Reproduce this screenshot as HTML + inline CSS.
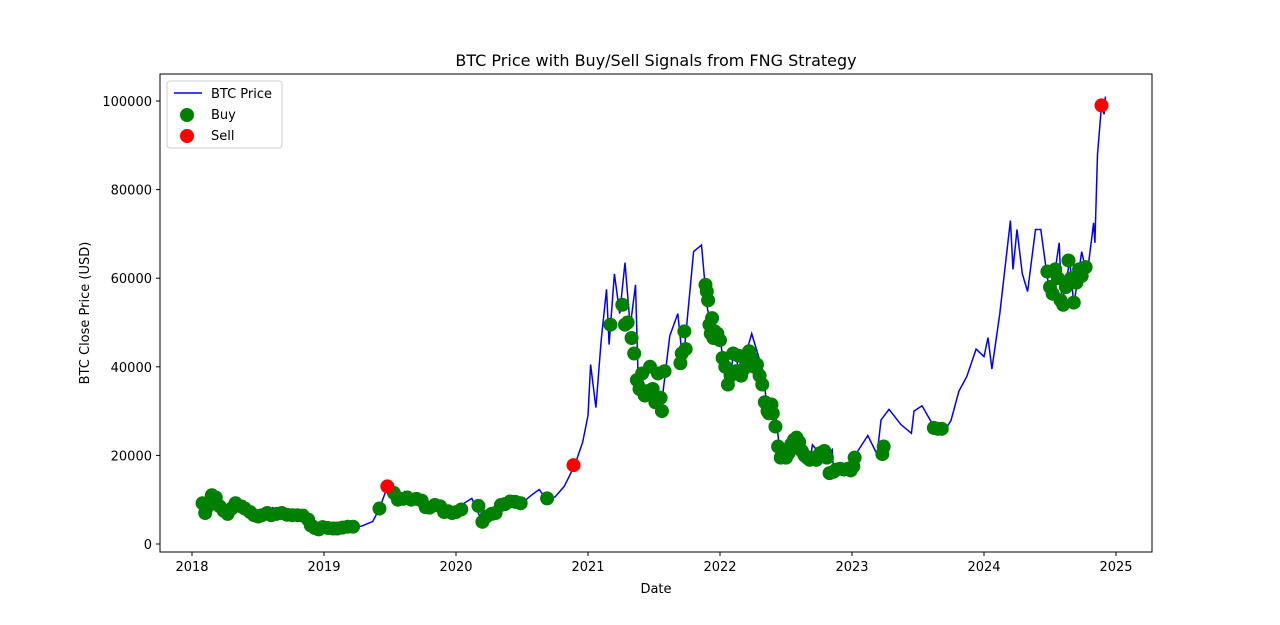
<!DOCTYPE html>
<html><head><meta charset="utf-8"><style>
body{margin:0;background:#fff;font-family:"Liberation Sans","DejaVu Sans",sans-serif}
svg text{font-family:"DejaVu Sans","Liberation Sans",sans-serif;fill:#000}
</style></head><body>
<svg id="chart" width="1280" height="620" xmlns="http://www.w3.org/2000/svg">
<rect width="1280" height="620" fill="#fff"/>
<text x="656" y="66" font-size="16" text-anchor="middle">BTC Price with Buy/Sell Signals from FNG Strategy</text>
<g id="plot"></g>
<rect x="160" y="74" width="992" height="478" fill="none" stroke="#000" stroke-width="1"/>
<g id="ticks"></g>
<text x="656" y="593" font-size="13" text-anchor="middle">Date</text>
<text transform="translate(89,313) rotate(-90)" font-size="13" text-anchor="middle">BTC Close Price (USD)</text>
<g>
<rect x="167" y="81" width="115" height="67" rx="3" fill="#fff" fill-opacity="0.8" stroke="#ccc"/>
<line x1="174" y1="93" x2="202" y2="93" stroke="#0000ff" stroke-width="1.5"/>
<text x="211" y="98" font-size="13">BTC Price</text>
<circle cx="187" cy="115" r="7" fill="green"/>
<text x="211" y="119" font-size="13">Buy</text>
<circle cx="187" cy="136" r="7" fill="red"/>
<text x="211" y="140" font-size="13">Sell</text>
</g>
</svg>
<script>
const priceDates=[2018.08,2018.10,2018.14,2018.17,2018.20,2018.25,2018.32,2018.35,2018.40,2018.44,2018.49,2018.56,2018.61,2018.68,2018.71,2018.75,2018.84,2018.89,2018.96,2019.00,2019.04,2019.10,2019.15,2019.25,2019.29,2019.37,2019.42,2019.48,2019.54,2019.58,2019.61,2019.67,2019.73,2019.82,2019.90,2019.96,2020.00,2020.04,2020.12,2020.20,2020.25,2020.33,2020.42,2020.50,2020.57,2020.63,2020.68,2020.75,2020.82,2020.90,2020.96,2021.00,2021.02,2021.06,2021.10,2021.14,2021.16,2021.20,2021.24,2021.28,2021.32,2021.36,2021.38,2021.42,2021.47,2021.55,2021.62,2021.68,2021.72,2021.80,2021.86,2021.90,2021.93,2022.00,2022.06,2022.11,2022.15,2022.24,2022.33,2022.36,2022.42,2022.46,2022.50,2022.62,2022.68,2022.70,2022.79,2022.85,2022.86,2023.00,2023.04,2023.12,2023.19,2023.22,2023.28,2023.37,2023.45,2023.47,2023.53,2023.63,2023.69,2023.75,2023.81,2023.87,2023.94,2024.00,2024.03,2024.06,2024.12,2024.16,2024.20,2024.22,2024.25,2024.29,2024.33,2024.39,2024.43,2024.48,2024.51,2024.57,2024.59,2024.65,2024.68,2024.74,2024.78,2024.83,2024.84,2024.86,2024.89,2024.91,2024.92];
const priceValues=[9.2,7.0,9.5,11.2,10.5,8.2,6.9,9.3,9.7,7.5,6.8,5.9,8.2,6.3,7.3,6.5,6.6,6.3,4.6,3.2,3.7,3.6,3.4,3.8,4.1,5.1,8.0,12.9,10.0,10.4,11.8,9.7,8.4,9.2,7.1,6.6,7.2,8.8,10.3,4.9,6.6,8.8,9.5,9.2,11.0,12.3,10.2,10.6,13.0,17.8,23.0,29.0,40.5,30.8,46.0,57.5,45.0,61.0,52.0,63.5,49.0,58.5,37.0,36.5,32.0,29.8,47.0,52.0,40.5,66.0,67.5,54.0,49.0,46.3,35.0,44.0,38.0,47.5,38.5,29.0,30.0,19.0,19.3,24.4,18.8,22.4,19.1,21.3,16.5,16.5,20.8,24.5,20.2,28.0,30.4,27.0,25.0,30.0,31.2,26.0,25.0,27.9,34.5,37.8,44.0,42.3,46.6,39.5,52.0,62.5,73.0,62.0,71.0,61.0,57.0,71.0,71.0,60.0,56.0,68.0,54.0,64.0,53.9,66.0,60.5,72.5,68.0,88.0,99.0,97.0,101.0];
const buyDates=[2018.08,2018.10,2018.12,2018.15,2018.18,2018.21,2018.24,2018.27,2018.30,2018.33,2018.37,2018.40,2018.44,2018.47,2018.50,2018.53,2018.57,2018.60,2018.64,2018.68,2018.72,2018.76,2018.80,2018.84,2018.88,2018.90,2018.93,2018.96,2018.99,2019.03,2019.07,2019.10,2019.14,2019.18,2019.22,2019.42,2019.53,2019.56,2019.60,2019.63,2019.66,2019.70,2019.74,2019.77,2019.80,2019.84,2019.88,2019.91,2019.94,2019.97,2020.00,2020.04,2020.17,2020.20,2020.23,2020.27,2020.30,2020.34,2020.37,2020.41,2020.45,2020.49,2020.69,2021.17,2021.26,2021.28,2021.30,2021.33,2021.35,2021.37,2021.39,2021.41,2021.43,2021.45,2021.47,2021.49,2021.51,2021.53,2021.55,2021.56,2021.58,2021.70,2021.71,2021.73,2021.74,2021.89,2021.90,2021.91,2021.92,2021.93,2021.94,2021.95,2021.96,2021.98,2022.00,2022.02,2022.04,2022.06,2022.08,2022.10,2022.12,2022.14,2022.16,2022.18,2022.20,2022.22,2022.24,2022.26,2022.28,2022.30,2022.32,2022.34,2022.36,2022.37,2022.39,2022.40,2022.42,2022.44,2022.46,2022.48,2022.50,2022.52,2022.54,2022.56,2022.58,2022.60,2022.62,2022.64,2022.66,2022.68,2022.70,2022.73,2022.76,2022.79,2022.81,2022.83,2022.86,2022.88,2022.91,2022.94,2022.97,2022.99,2023.01,2023.02,2023.23,2023.24,2023.62,2023.65,2023.68,2024.48,2024.50,2024.52,2024.54,2024.56,2024.58,2024.60,2024.62,2024.64,2024.66,2024.68,2024.70,2024.72,2024.74,2024.77];
const buyValues=[9.2,7.0,8.5,11.0,10.5,8.5,7.5,6.8,8.0,9.2,8.5,8.0,7.2,6.5,6.2,6.5,7.0,6.5,6.8,7.0,6.6,6.5,6.5,6.4,5.5,4.2,3.6,3.3,3.8,3.6,3.5,3.5,3.7,3.9,3.9,8.0,11.5,10.0,10.2,10.5,10.0,10.2,9.8,8.3,8.2,8.8,8.5,7.2,7.4,7.0,7.2,7.8,8.6,5.0,6.2,6.8,7.0,8.8,9.0,9.6,9.5,9.2,10.3,49.5,54.0,49.5,50.0,46.5,43.0,37.0,35.0,38.5,33.5,34.5,40.0,35.0,32.0,38.5,33.0,30.0,39.0,40.8,43.0,48.0,44.0,58.5,57.0,55.0,49.5,47.5,51.0,46.5,48.0,47.5,46.0,42.0,40.0,36.0,38.0,43.0,39.0,42.5,38.0,39.5,41.0,43.5,42.0,40.0,40.5,38.0,36.0,32.0,30.0,29.5,31.5,29.5,26.5,22.0,19.5,21.0,19.5,20.5,22.5,23.5,24.0,23.0,21.0,20.0,19.5,19.0,19.5,19.0,20.5,21.0,19.5,16.0,16.3,16.8,17.0,16.8,17.0,16.6,17.5,19.5,20.3,22.0,26.2,26.0,26.0,61.5,58.0,56.5,62.0,60.0,55.0,54.0,58.0,64.0,60.0,54.5,59.0,62.0,60.5,62.5];
const sellDates=[2019.48,2020.89,2024.89];
const sellValues=[13.0,17.8,99.0];
const xTicks=[2018,2019,2020,2021,2022,2023,2024,2025];
const yTicks=[0,20000,40000,60000,80000,100000];

const NS='http://www.w3.org/2000/svg';
function xs(d){return 192+(d-2018)*132;}
function ys(v){return 544-v*4.43/1000;}
const plot=document.getElementById('plot'),ticks=document.getElementById('ticks');
function mk(tag,attrs,parent){const e=document.createElementNS(NS,tag);for(const k in attrs)e.setAttribute(k,attrs[k]);parent.appendChild(e);return e;}
let d='';
priceDates.forEach((t,i)=>{d+=(i?'L':'M')+xs(t).toFixed(1)+','+ys(priceValues[i]*1000).toFixed(1);});
const line=mk('path',{d:d,fill:'none',stroke:'#0000ff','stroke-width':1.5},plot);


buyDates.forEach((t,i)=>{const c=mk('circle',{cx:xs(t),cy:ys(buyValues[i]*1000),r:7,fill:'green'},plot);

});
sellDates.forEach((t,i)=>{const c=mk('circle',{cx:xs(t),cy:ys(sellValues[i]*1000),r:7,fill:'red'},plot);

});
xTicks.forEach(t=>{const x=xs(t);mk('line',{x1:x,x2:x,y1:552,y2:556,stroke:'#000'},ticks);
const tx=mk('text',{x:x,y:571,'font-size':13,'text-anchor':'middle'},ticks);tx.textContent=t;

});
yTicks.forEach(v=>{const y=ys(v);mk('line',{x1:156,x2:160,y1:y,y2:y,stroke:'#000'},ticks);
const tx=mk('text',{x:152,y:y+5,'font-size':13,'text-anchor':'end'},ticks);tx.textContent=v;

});
</script>
</body></html>
